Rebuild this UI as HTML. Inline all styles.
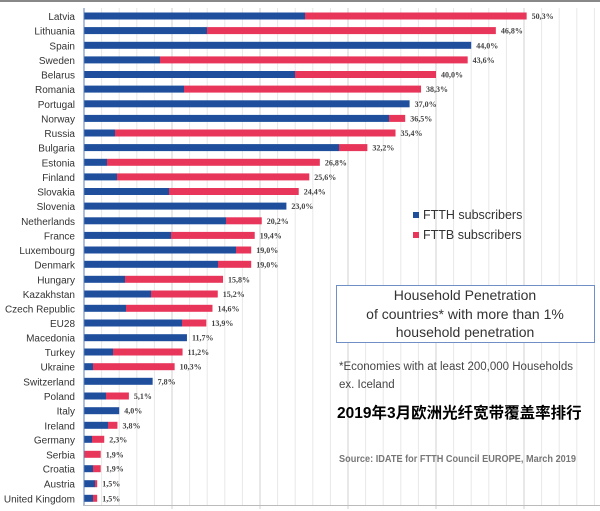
<!DOCTYPE html>
<html><head><meta charset="utf-8"><style>
html,body{margin:0;padding:0;background:#fff;}
svg{display:block;}
</style></head><body>
<svg width="600" height="511" viewBox="0 0 600 511" xmlns="http://www.w3.org/2000/svg">
<rect width="600" height="511" fill="#fff"/>
<line x1="0" y1="1" x2="600" y2="1" stroke="#888" stroke-width="2"/>
<g id="grid"></g>
<g id="bars"></g>
<line x1="84" y1="8" x2="84" y2="506" stroke="#5a7fb8" stroke-width="1"/>
<line x1="84" y1="505.5" x2="600" y2="505.5" stroke="#bbb" stroke-width="1"/>
<rect x="336.5" y="285.5" width="258" height="57" fill="#fff" stroke="#6f8fc6" stroke-width="1"/>
<g font-family="Liberation Sans, sans-serif" font-size="14" fill="#333" text-anchor="middle">
<text x="465" y="300">Household Penetration</text>
<text x="465" y="319">of countries* with more than 1%</text>
<text x="465" y="337">household penetration</text>
</g>
<g font-family="Liberation Sans, sans-serif" font-size="11.5" fill="#444">
<text x="339" y="370">*Economies with at least 200,000 Households</text>
<text x="339" y="388">ex. Iceland</text>
</g>
<text x="337" y="418" font-family="Liberation Sans, 'Noto Sans CJK SC', sans-serif" font-size="15.5" font-weight="bold" fill="#000">2019年3月欧洲光纤宽带覆盖率排行</text>
<text x="339" y="462" font-family="Liberation Sans, sans-serif" font-size="10.5" font-weight="bold" fill="#777" textLength="237" lengthAdjust="spacingAndGlyphs">Source: IDATE for FTTH Council EUROPE, March 2019</text>
<rect x="413" y="212" width="6" height="6" fill="#1f4f9c"/>
<rect x="413" y="232" width="6" height="6" fill="#e8365a"/>
<g font-family="Liberation Sans, sans-serif" font-size="12.5" fill="#333">
<text x="423" y="219">FTTH subscribers</text>
<text x="423" y="239">FTTB subscribers</text>
</g>
</svg>
<script>
var d=[["Latvia",50.3,305,16],["Lithuania",46.8,207,30.6],["Spain",44.0,null,45.3],["Sweden",43.6,160,59.9],["Belarus",40.0,295,74.5],["Romania",38.3,184,89.1],["Portugal",37.0,null,103.8],["Norway",36.5,389,118.4],["Russia",35.4,115,133],["Bulgaria",32.2,339,147.6],["Estonia",26.8,107,162.3],["Finland",25.6,117,176.9],["Slovakia",24.4,169,191.5],["Slovenia",23.0,null,206.1],["Netherlands",20.2,226,220.8],["France",19.4,171,235.4],["Luxembourg",19.0,236,250],["Denmark",19.0,218,264.3],["Hungary",15.8,125,279.3],["Kazakhstan",15.2,151,294],["Czech Republic",14.6,126,308.3],["EU28",13.9,182,323],["Macedonia",11.7,null,337.7],["Turkey",11.2,113,352],["Ukraine",10.3,93,366.7],["Switzerland",7.8,null,381.3],["Poland",5.1,106,396],["Italy",4.0,null,410.7],["Ireland",3.8,108,425.3],["Germany",2.3,92,439.3],["Serbia",1.9,84,454.3],["Croatia",1.9,93,468.7],["Austria",1.5,95,483.7],["United Kingdom",1.5,93,498.3]];
var ns="http://www.w3.org/2000/svg";
function el(t,a,p,txt){var e=document.createElementNS(ns,t);for(var k in a)e.setAttribute(k,a[k]);if(txt!=null)e.textContent=txt;p.appendChild(e);return e;}
var g=document.getElementById("grid"),b=document.getElementById("bars");
for(var i=1;i<=29;i++){var x=84+i*17.6;var major=i%5==0;el("line",{x1:x,y1:8,x2:x,y2:major?509:505,stroke:major?"#d0d0d0":"#e8e8e8","stroke-width":1},g);}
var S=8.8;
d.forEach(function(r){var end=84+r[1]*S,y=r[3];var be=r[2]==null?end:r[2];
if(be>84)el("rect",{x:84,y:y-3.5,width:be-84,height:7,fill:"#1f4f9c"},b);
if(end>be)el("rect",{x:be,y:y-3.5,width:end-be,height:7,fill:"#e8365a"},b);
el("text",{x:75,y:y+4,"text-anchor":"end","font-family":"Liberation Sans, sans-serif","font-size":"10",fill:"#333"},b,r[0]);
el("text",{x:end+5,y:y+3,"font-family":"Liberation Serif, serif","font-size":"8","font-weight":"bold",fill:"#444"},b,r[1].toFixed(1).replace(".",",")+"%");
});
</script>
</body></html>
